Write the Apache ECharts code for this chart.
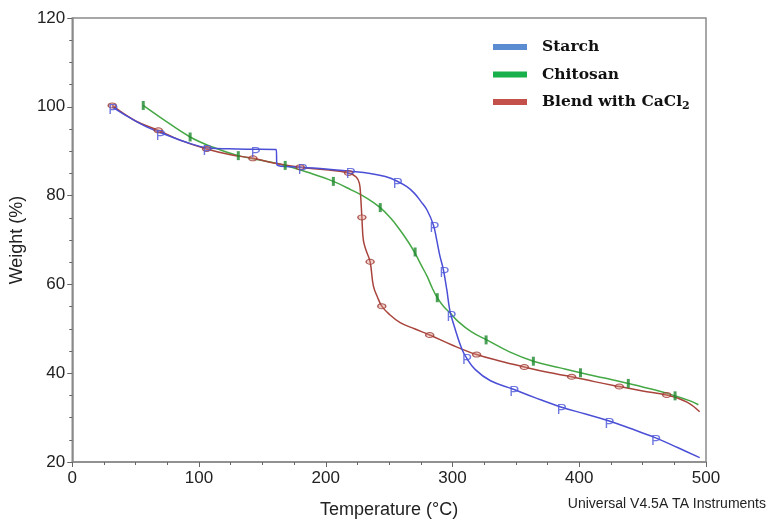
<!DOCTYPE html>
<html><head><meta charset="utf-8">
<script src="https://cdn.jsdelivr.net/npm/echarts@6/dist/echarts.min.js"></script>
<style>html,body{margin:0;padding:0;background:#fff}#c{width:768px;height:524px}</style>
</head><body><div id="c"></div>
<script>
// Series names
const seriesNames = ['Starch', 'Chitosan', 'Blend with CaCl2'];
// Axis ticks
const xTicks = [0, 100, 200, 300, 400, 500];
const yTicks = [20, 40, 60, 80, 100, 120];

// Starch curve (Temperature °C, Weight %)
const starchT = [31.5, 45, 60, 75, 90, 106, 130, 160.8, 161.6, 180, 200, 219, 235, 247, 256, 264, 270, 275, 280, 285, 287.6, 290, 292.8, 295.5, 298, 302, 307.3, 310.7, 318, 330, 348, 365, 385.4, 405, 423, 440, 459.8, 478, 495];
const starchW = [100, 97.6, 95.3, 93.6, 92, 90.8, 90.5, 90.4, 86.9, 86.4, 86, 85.5, 85, 84.3, 83.3, 82, 80.5, 78.7, 76.7, 73.3, 69.9, 66.5, 63.3, 58.8, 54, 50, 45.5, 43.6, 40.8, 38.3, 36.4, 34.5, 32.4, 30.8, 29.3, 27.6, 25.5, 23.2, 21];
// Chitosan curve
const chitosanT = [56, 70, 93, 110, 131, 150, 168, 185, 206, 220, 232, 243, 251, 258.7, 265, 270.5, 275, 280, 284, 288, 293, 298, 305, 315, 327, 345, 363.8, 385, 401, 420, 438.7, 460, 475.6, 488, 494];
const chitosanW = [100.3, 97.5, 93.2, 91, 89, 87.9, 86.8, 85.3, 83.2, 81.3, 79.5, 77.3, 75, 72.2, 69.6, 67, 64.5, 61.8, 59.2, 57, 55, 53.6, 51.5, 49.3, 47.5, 44.8, 42.7, 41.2, 40.1, 38.9, 37.7, 36.2, 34.9, 33.7, 32.9];
// Blend with CaCl2 curve
const blendT = [31.5, 50, 67.9, 85, 106, 125, 142.5, 160, 179.8, 200, 218, 224, 226.5, 227.5, 228.5, 229.7, 232, 235, 237.6, 241, 244.2, 250, 258.7, 270, 282, 300, 319, 338, 356.7, 375, 394, 412, 431.6, 450, 469, 485, 495];
const blendW = [100.3, 96.8, 94.7, 92.5, 90.5, 89.2, 88.4, 87.3, 86.4, 85.8, 85.1, 84.2, 82.8, 80, 75.1, 69.9, 67.5, 65.1, 59.6, 57, 55.1, 53.3, 51.4, 50, 48.6, 46.3, 44.2, 42.7, 41.4, 40.2, 39.2, 38.1, 37, 36, 35.1, 33.5, 31.3];

// Marker positions on curves
const starchMarkT = [31.5, 69, 106, 144, 181, 219, 256, 285, 292.8, 298.5, 310.7, 348, 385.4, 423, 459.8];
const starchMarkW = [100, 94.2, 90.8, 90.4, 86.4, 85.5, 83.3, 73.3, 63.3, 53.3, 43.6, 36.4, 32.4, 29.3, 25.5];
const chitosanMarkT = [56, 93, 131, 168, 206, 243, 270.5, 288, 326.5, 363.8, 401, 438.7, 475.6];
const chitosanMarkW = [100.3, 93.2, 89, 86.8, 83.2, 77.3, 67.3, 57, 47.5, 42.7, 40.1, 37.7, 34.9];
const blendMarkT = [31.5, 67.9, 106, 142.5, 179.8, 218, 228.5, 235, 244.2, 282, 319, 356.7, 394, 431.6, 469];
const blendMarkW = [100.3, 94.7, 90.5, 88.4, 86.4, 85.1, 75.1, 65.1, 55.1, 48.6, 44.2, 41.4, 39.2, 37, 35.1];

const zip = (a, b) => a.map((v, i) => [v, b[i]]);

const lineBlue = '#4b4fd6', lineGreen = '#45a845', lineRed = '#a8443c';
const legBlue = '#5b8bd0', legGreen = '#17b04a', legRed = '#c4504c';

const chart = echarts.init(document.getElementById('c'), null, {renderer: 'canvas'});
chart.setOption({
  animation: false,
  backgroundColor: '#fff',
  grid: {left: 72, right: 62, top: 18, bottom: 56, show: true, borderColor: '#8a8a8a', borderWidth: 1.5, backgroundColor: '#fff'},
  legend: {
    left: 493, top: 39, padding: 0, orient: 'vertical', icon: 'rect', itemWidth: 34, itemHeight: 6, itemGap: 11.5,
    data: [
      {name: seriesNames[0], itemStyle: {color: legBlue}},
      {name: seriesNames[1], itemStyle: {color: legGreen}},
      {name: seriesNames[2], itemStyle: {color: legRed}}
    ],
    formatter: n => n === 'Blend with CaCl2' ? 'Blend with CaCl{s|2}' : n,
    textStyle: {fontFamily: 'DejaVu Serif', fontWeight: 'bold', fontSize: 15.5, color: '#111', padding: [0, 0, 0, 10],
      rich: {s: {fontFamily: 'DejaVu Serif', fontWeight: 'bold', fontSize: 11, verticalAlign: 'bottom', padding: [9, 0, 0, 0], color: '#111'}}}
  },
  xAxis: {
    type: 'value', min: xTicks[0], max: xTicks[xTicks.length - 1], interval: 100,
    name: 'Temperature (°C)', nameLocation: 'middle', nameGap: 39,
    nameTextStyle: {fontFamily: 'Liberation Sans', fontSize: 18, color: '#222'},
    axisLine: {show: true, lineStyle: {color: '#8a8a8a', width: 1.5}},
    axisTick: {show: true, length: 5, lineStyle: {color: '#666'}},
    minorTick: {show: true, splitNumber: 4, length: 3, lineStyle: {color: '#666'}},
    axisLabel: {fontFamily: 'Liberation Sans', fontSize: 17, color: '#222', margin: 8},
    splitLine: {show: false}
  },
  yAxis: {
    type: 'value', min: yTicks[0], max: yTicks[yTicks.length - 1], interval: 20,
    name: 'Weight (%)', nameLocation: 'middle', nameGap: 41, nameRotate: 90,
    nameTextStyle: {fontFamily: 'Liberation Sans', fontSize: 18, color: '#222'},
    axisLine: {show: true, lineStyle: {color: '#8a8a8a', width: 1.5}},
    axisTick: {show: true, length: 5, lineStyle: {color: '#666'}},
    minorTick: {show: true, splitNumber: 4, length: 3, lineStyle: {color: '#666'}},
    axisLabel: {fontFamily: 'Liberation Sans', fontSize: 17, color: '#222', margin: 7},
    splitLine: {show: false}
  },
  graphic: [{
    type: 'text', right: 2, top: 497,
    style: {text: 'Universal V4.5A TA Instruments', font: '14px "Liberation Sans"', fill: '#222'}
  }],
  series: [
    {name: seriesNames[0], type: 'line', data: zip(starchT, starchW), showSymbol: false, smooth: 0.4,
     lineStyle: {color: lineBlue, width: 1.5}, itemStyle: {color: legBlue}, z: 3},
    {name: seriesNames[1], type: 'line', data: zip(chitosanT, chitosanW), showSymbol: false, smooth: 0.4,
     lineStyle: {color: lineGreen, width: 1.5}, itemStyle: {color: legGreen}, z: 2},
    {name: seriesNames[2], type: 'line', data: zip(blendT, blendW), showSymbol: false, smooth: 0.4,
     lineStyle: {color: lineRed, width: 1.5}, itemStyle: {color: legRed}, z: 2},
    {name: 'starchMarks', type: 'scatter', data: zip(starchMarkT, starchMarkW), symbol: 'circle', symbolSize: 1,
     itemStyle: {color: 'rgba(0,0,0,0)'}, z: 5,
     label: {show: true, formatter: 'P', position: 'inside', offset: [1, 3], color: '#4a55d8', fontFamily: 'Liberation Sans', fontSize: 15}},
    {name: 'chitosanMarks', type: 'scatter', data: zip(chitosanMarkT, chitosanMarkW), symbol: 'rect', symbolSize: [3, 9],
     itemStyle: {color: '#1f8a2e'}, z: 4},
    {name: 'blendMarks', type: 'scatter', data: zip(blendMarkT, blendMarkW), symbol: 'circle', symbolSize: [8, 5],
     itemStyle: {color: 'rgba(220,140,130,0.5)', borderColor: '#9a3a32', borderWidth: 1.2}, z: 4}
  ]
});
</script></body></html>
